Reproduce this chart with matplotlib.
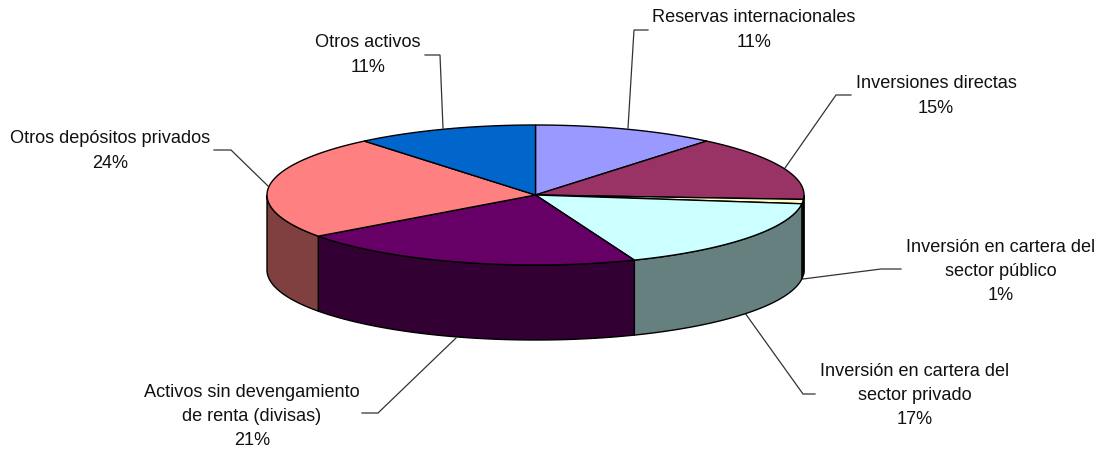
import numpy as np
import matplotlib
matplotlib.use("Agg")
import matplotlib.pyplot as plt
from matplotlib.patches import Polygon

plt.rcParams["font.family"] = ["Liberation Sans", "DejaVu Sans"]

# clockwise from 12 o'clock
names = ["Reservas internacionales", "Inversiones directas",
         "Inversión en cartera del\nsector público",
         "Inversión en cartera del\nsector privado",
         "Activos sin devengamiento\nde renta (divisas)",
         "Otros depósitos privados", "Otros activos"]
values = [11, 15, 1, 17, 21, 24, 11]
top_colors = ["#9999FF", "#993366", "#FFFFCC", "#CCFFFF", "#660066", "#FF8080", "#0066CC"]
side_colors = ["#4D4D80", "#4D1A33", "#808066", "#668080", "#330033", "#804040", "#003366"]

# pie geometry in image pixels
CX, CY = 535.5, 195
RX, RY = 268.5, 70
DEPTH = 75


def rim(a0, a1, dy=0):
    t = np.radians(np.linspace(a0, a1, max(int(abs(a1 - a0) * 2), 2)))
    return np.column_stack([CX + RX * np.sin(t), CY + dy - RY * np.cos(t)])


fig = plt.figure(figsize=(11.07, 4.54), dpi=100)
ax = fig.add_axes([0, 0, 1, 1])
ax.set_xlim(0, 1107)
ax.set_ylim(454, 0)
ax.axis("off")

edges = np.cumsum([0] + values) * 3.6

# walls of the front half only
for i, col in enumerate(side_colors):
    a0, a1 = max(edges[i], 90), min(edges[i + 1], 270)
    if a1 <= a0:
        continue
    pts = np.vstack([rim(a0, a1), rim(a1, a0, DEPTH)])
    ax.add_patch(Polygon(pts, closed=True, fc=col, ec="black", lw=1, zorder=2))

for i, col in enumerate(top_colors):
    pts = np.vstack([[CX, CY], rim(edges[i], edges[i + 1])])
    ax.add_patch(Polygon(pts, closed=True, fc=col, ec="black", lw=1, zorder=3))

# leader lines
leaders = [
    ([628, 634, 648], [128, 30, 30]),
    ([785, 836, 851], [168, 95, 95]),
    ([803, 881, 901], [279, 269, 269]),
    ([745, 803, 815], [313, 394, 394]),
    ([456, 378, 362], [338, 413, 413]),
    ([268, 231, 214], [186, 150, 150]),
    ([443, 440, 425], [128, 55, 55]),
]
for xs, ys in leaders:
    ax.plot(xs, ys, color="#333333", lw=0.9, zorder=1, solid_joinstyle="miter")

label_pos = [(754, 30), (936, 96), (1001, 271.5), (915, 395.5), (252, 416.5), (110, 151), (368, 55)]
for name, v, (x, y) in zip(names, values, label_pos):
    ax.text(x, y, f"{name}\n{v}%", ha="center", va="center", fontsize=13.1,
            linespacing=1.54, color="#111111")

fig.savefig("out.png", dpi=100)
